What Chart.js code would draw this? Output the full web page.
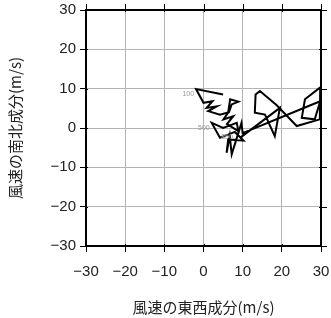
<!DOCTYPE html>
<html>
<head>
<meta charset="utf-8">
<script src="https://cdn.jsdelivr.net/npm/chart.js@4"></script>
<style>
  html, body { margin: 0; padding: 0; background: #fff; }
  #wrap { width: 331px; height: 318px; }
</style>
</head>
<body>
<div id="wrap"><canvas id="hodo" width="331" height="318"></canvas></div>
<script>
// 風の東西成分 u / 南北成分 v (m/s), 下層 -> 上層
const uWind = [9.3, 19.5, 18.2, 15.7, 13.1, 13.3, 14.4, 18.7, 23.8, 29.7, 29.8, 25.9, 25.1, 28.4, 29.8,
               10.0, 9.7, 7.2, 6.7, 5.9, 6.3, 10.2, 8.0, 4.2, 2.1, 5.0, 8.5, 8.9, 6.0, 7.6, 5.1, 6.3, 6.8, 8.9, 7.2,
               6.5, 4.2, 1.2, 3.4, 0.8, 2.3, 0.0, -1.9, 5.0];
const vWind = [-2.5, 5.1, -2.1, 3.4, 3.9, 8.5, 9.4, 5.8, 0.5, 2.2, 10.3, 7.3, 2.6, 2.2, 6.8,
               -1.3, 1.3, -6.7, -2.0, -6.3, -2.9, -3.2, -1.0, -2.5, 1.3, 0.0, 1.3, -0.8, 1.0, 3.0, 2.2, 3.9, 7.3, 6.7, 6.0,
               4.0, 3.4, 4.3, 5.5, 5.1, 6.8, 6.4, 9.9, 8.5];
// 気圧面ラベル (hPa) とその位置の点番号
const levelNames = ['850', '500', '100'];
const levelIndex = [22, 24, 42];

const axisTicks = [-30, -20, -10, 0, 10, 20, 30];
const xTitle = '風速の東西成分(m/s)';
const yTitle = '風速の南北成分(m/s)';

const NUM_FONT = "'Liberation Sans', Arial, sans-serif";
const JP_FONT = "'Noto Sans CJK JP', 'Liberation Sans', sans-serif";

const points = uWind.map((u, i) => ({ x: u, y: vWind[i] }));

function minus(v) { return String(v).replace('-', '\u2212'); }

const frame = {
    id: 'frame',
    afterDraw(chart) {
        const ctx = chart.ctx, a = chart.chartArea;
        const xs = chart.scales.x, ys = chart.scales.y;
        ctx.save();
        ctx.strokeStyle = '#000';
        ctx.lineWidth = 1;
        // 上と右の目盛り
        axisTicks.forEach(t => {
            const px = Math.round(xs.getPixelForValue(t)) + 0.5;
            ctx.beginPath(); ctx.moveTo(px, a.top - 6); ctx.lineTo(px, a.top + 2); ctx.stroke();
            ctx.beginPath(); ctx.moveTo(px, a.bottom - 2); ctx.lineTo(px, a.bottom); ctx.stroke();
            const py = Math.round(ys.getPixelForValue(t)) + 0.5;
            ctx.beginPath(); ctx.moveTo(a.right - 2, py); ctx.lineTo(a.right + 6, py); ctx.stroke();
            ctx.beginPath(); ctx.moveTo(a.left, py); ctx.lineTo(a.left + 2, py); ctx.stroke();
        });
        ctx.lineWidth = 2;
        ctx.strokeRect(a.left, a.top, a.right - a.left, a.bottom - a.top);
        // 気圧面ラベル
        ctx.fillStyle = '#999';
        ctx.font = '7px ' + NUM_FONT;
        ctx.textAlign = 'right';
        ctx.textBaseline = 'middle';
        levelIndex.forEach((idx, k) => {
            const px = xs.getPixelForValue(uWind[idx]);
            const py = ys.getPixelForValue(vWind[idx]);
            ctx.fillText(levelNames[k], px - 2, py + 5);
        });
        ctx.restore();
    }
};

new Chart(document.getElementById('hodo'), {
    type: 'scatter',
    data: {
        datasets: [{
            data: points,
            showLine: true,
            borderColor: '#000',
            borderWidth: 2,
            pointRadius: 0,
            tension: 0,
        }]
    },
    options: {
        responsive: false,
        animation: false,
        layout: { padding: { top: 10, right: 10, left: 0, bottom: 0 } },
        plugins: { legend: { display: false }, tooltip: { enabled: false } },
        scales: {
            x: {
                type: 'linear', min: -30, max: 30,
                afterBuildTicks: s => { s.ticks = axisTicks.map(v => ({ value: v })); },
                afterFit: s => { s.height = 72; s.paddingLeft = 0; s.paddingRight = 0; },
                grid: { color: '#b4b4b4', lineWidth: 1, tickLength: 6, tickColor: '#000' },
                border: { display: false },
                ticks: { color: '#222', font: { family: NUM_FONT, size: 15 }, padding: 11,
                         maxRotation: 0, callback: v => minus(v) },
                title: { display: true, text: xTitle, color: '#222',
                         font: { family: JP_FONT, size: 15 }, padding: { top: 10, bottom: 2 } }
            },
            y: {
                type: 'linear', min: -30, max: 30,
                afterBuildTicks: s => { s.ticks = axisTicks.map(v => ({ value: v })); },
                afterFit: s => { s.width = 86; s.paddingTop = 0; s.paddingBottom = 0; },
                grid: { color: '#b4b4b4', lineWidth: 1, tickLength: 6, tickColor: '#000' },
                border: { display: false },
                ticks: { color: '#222', font: { family: NUM_FONT, size: 15 }, padding: 4,
                         callback: v => minus(v) },
                title: { display: true, text: yTitle, color: '#222',
                         font: { family: JP_FONT, size: 15 }, padding: { top: 6, bottom: 4 } }
            }
        }
    },
    plugins: [frame]
});
</script>
</body>
</html>
